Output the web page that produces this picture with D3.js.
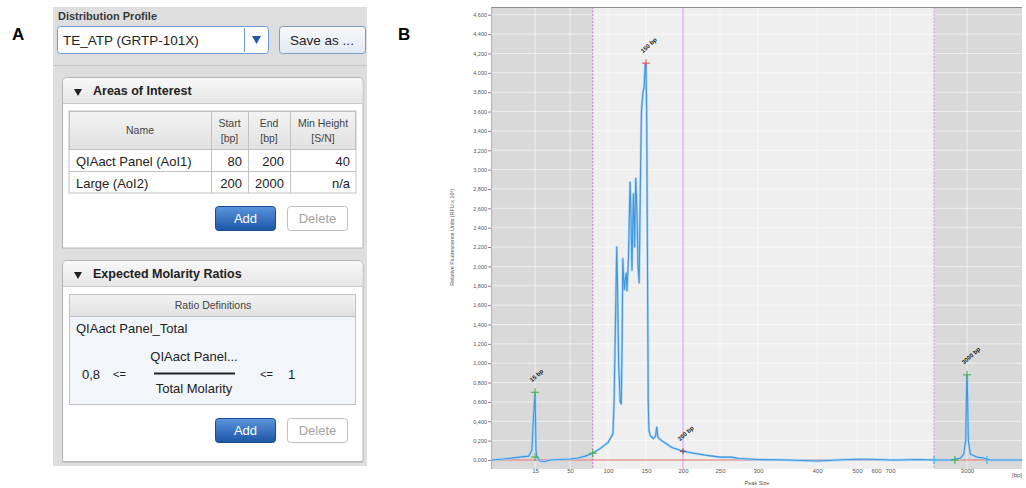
<!DOCTYPE html>
<html>
<head>
<meta charset="utf-8">
<script src="https://cdn.jsdelivr.net/npm/d3@7"></script>
<style>
  body { margin: 0; background: #fff; }
  text { font-family: "Liberation Sans", Arial, sans-serif; }
</style>
</head>
<body>
<div id="my_dataviz"></div>
<script>
// ---- Panel A data (software settings) ----
const aoiNames = ["QIAact Panel (AoI1)", "Large (AoI2)"];
const aoiStart = [80, 200];
const aoiEnd = [200, 2000];
const aoiMinHeight = ["40", "n/a"];
const ratioName = "QIAact Panel_Total";
const ratioLow = "0,8";
const ratioHigh = "1";

// ---- Panel B data (electropherogram) ----
const ladderBp = [15, 50, 100, 150, 200, 250, 300, 400, 500, 600, 700, 3000];
const yTicks = d3.range(0, 4.601, 0.2);

// trace: size [bp] and signal [RFU x 10^3]
const traceBp = [1, 5, 10, 13, 14, 14.6, 15, 15.4, 16, 17, 20, 25, 30, 40, 50, 60, 70, 80, 90, 100, 105, 106.5,
  108, 110, 111.5, 112.5, 114, 116, 117.5, 118.5, 119.5, 120.5, 121.5, 122.5, 124, 125, 127, 129, 130, 131.5,
  132.5, 133.5, 135, 136.5, 138, 139.5, 141, 142.5, 144, 146, 147.5, 149, 150, 151, 152, 153, 154, 156, 160,
  163, 164.5, 166, 168, 171, 175, 185, 200, 215, 230, 250, 265, 275, 300, 350, 400, 450, 500, 550, 600, 700,
  1000, 1500, 2000, 2500, 2800, 2900, 2960, 2990, 3000, 3010, 3040, 3100, 3300, 3500, 3700, 4650];
const traceRfu = [0.0, 0.01, 0.03, 0.04, 0.1, 0.5, 0.69, 0.5, 0.1, 0.03, -0.01, -0.015, 0.0, 0.005, 0.01, 0.02,
  0.04, 0.07, 0.12, 0.18, 0.25, 0.27,
  0.6, 1.5, 2.2, 1.8, 1.0, 0.6, 0.58, 1.2, 2.08, 1.9, 1.76, 1.85, 1.93, 1.75, 2.1, 2.87, 2.6, 1.96,
  2.4, 2.75, 2.2, 2.91, 2.6, 2.0, 1.83, 2.8, 3.6, 3.8, 3.85, 4.1, 4.09, 3.5, 2.0, 0.6, 0.3, 0.25, 0.22,
  0.25, 0.34, 0.24, 0.22, 0.2, 0.18, 0.13, 0.09, 0.07, 0.05, 0.03, 0.03, 0.015, 0.005, 0.0, -0.01, 0.0, 0.008, 0.008, 0.005, 0.0,
  0.0, 0.005, 0.0, 0.0, 0.02, 0.06, 0.2, 0.8, 0.87, 0.8, 0.2, 0.06, 0.03, 0.02, 0.0, 0.0];

const peakBp = [15, 150, 200, 3000];
const peakRfu = [0.70, 4.10, 0.09, 0.88];
const peakNames = ["15 bp", "150 bp", "200 bp", "3000 bp"];

const greenBp = [15, 15, 80, 2636, 3000];
const greenRfu = [0.03, 0.70, 0.07, 0.0, 0.88];
const cyanBp = [2000, 3600];

const svg = d3.select("#my_dataviz")
  .append("svg")
    .attr("width", 1026)
    .attr("height", 488);

// gradients
const defs = svg.append("defs");
function grad(id, c1, c2) {
  const g = defs.append("linearGradient").attr("id", id).attr("x1", 0).attr("y1", 0).attr("x2", 0).attr("y2", 1);
  g.append("stop").attr("offset", "0%").attr("stop-color", c1);
  g.append("stop").attr("offset", "100%").attr("stop-color", c2);
}
grad("hdr", "#f8f8f8", "#e6e6e6");
grad("thd", "#f3f3f3", "#e1e1e1");
grad("blue", "#5b95dc", "#1d55a6");
grad("save", "#f7f9fc", "#e2e9f2");

// Panel letters
svg.append("text").attr("x", 12).attr("y", 40).style("font-size", "17px").style("font-weight", "bold").text("A");
svg.append("text").attr("x", 398).attr("y", 40).style("font-size", "17px").style("font-weight", "bold").text("B");

// ================= Panel A =================
const pa = svg.append("g");
pa.append("rect").attr("x", 53).attr("y", 7).attr("width", 314).attr("height", 459).attr("fill", "#dedede");

pa.append("text").attr("x", 58).attr("y", 20).style("font-size", "11px").style("font-weight", "bold")
  .attr("fill", "#3a3a3a").text("Distribution Profile");

// dropdown
pa.append("rect").attr("x", 57.5).attr("y", 26.5).attr("width", 211).attr("height", 27).attr("rx", 3)
  .attr("fill", "#fff").attr("stroke", "#6d9ad4");
pa.append("line").attr("x1", 244.5).attr("x2", 244.5).attr("y1", 28).attr("y2", 52).attr("stroke", "#6d9ad4");
pa.append("path").attr("d", "M252,36H261L256.5,44Z").attr("fill", "#2557a3");
pa.append("text").attr("x", 63).attr("y", 45).style("font-size", "13.5px").attr("fill", "#222").text("TE_ATP (GRTP-101X)");

// save button
pa.append("rect").attr("x", 279.5).attr("y", 26.5).attr("width", 86).attr("height", 27).attr("rx", 3)
  .attr("fill", "url(#save)").attr("stroke", "#7f9cc2");
pa.append("text").attr("x", 322).attr("y", 45).attr("text-anchor", "middle").style("font-size", "13.5px")
  .attr("fill", "#222").text("Save as ...");

pa.append("line").attr("x1", 53).attr("x2", 367).attr("y1", 65.5).attr("y2", 65.5).attr("stroke", "#c6c6c6");

// collapsible panel helper
function panel(top, bottom, title) {
  pa.append("path")
    .attr("d", `M62.5,${bottom}V${top + 5}Q62.5,${top + 0.5} 67.5,${top + 0.5}H358Q363,${top + 0.5} 363,${top + 5}V${bottom}Z`)
    .attr("fill", "#fff").attr("stroke", "#b4b4b4");
  pa.append("path")
    .attr("d", `M63,${top + 26}V${top + 5}Q63,${top + 1} 67.5,${top + 1}H358Q362.5,${top + 1} 362.5,${top + 5}V${top + 26}Z`)
    .attr("fill", "url(#hdr)");
  pa.append("line").attr("x1", 63).attr("x2", 362.5).attr("y1", top + 26.5).attr("y2", top + 26.5).attr("stroke", "#cacaca");
  pa.append("path").attr("d", `M74,${top + 12}H82L78,${top + 19}Z`).attr("fill", "#222");
  pa.append("text").attr("x", 93).attr("y", top + 17.5).style("font-size", "12.5px").style("font-weight", "bold")
    .attr("fill", "#222").text(title);
}

function buttons(y) {
  pa.append("rect").attr("x", 215.5).attr("y", y + 0.5).attr("width", 60).attr("height", 24).attr("rx", 3)
    .attr("fill", "url(#blue)").attr("stroke", "#1b4d92");
  pa.append("text").attr("x", 245.5).attr("y", y + 17).attr("text-anchor", "middle").style("font-size", "13px")
    .attr("fill", "#fff").text("Add");
  pa.append("rect").attr("x", 287.5).attr("y", y + 0.5).attr("width", 60).attr("height", 24).attr("rx", 3)
    .attr("fill", "#fff").attr("stroke", "#c0c0c0");
  pa.append("text").attr("x", 317.5).attr("y", y + 17).attr("text-anchor", "middle").style("font-size", "13px")
    .attr("fill", "#a3a3a3").text("Delete");
}

// Areas of Interest panel
panel(77, 248, "Areas of Interest");
pa.append("rect").attr("x", 69).attr("y", 111).attr("width", 287).attr("height", 82)
  .attr("fill", "#fff").attr("stroke", "#c2c2c2");
pa.append("rect").attr("x", 69.5).attr("y", 111.5).attr("width", 286).attr("height", 38)
  .attr("fill", "url(#thd)").attr("stroke", "#c2c2c2");
const colX = [69, 211, 248, 290, 356];
colX.slice(1, 4).forEach(cx => {
  pa.append("line").attr("x1", cx + 0.5).attr("x2", cx + 0.5).attr("y1", 111).attr("y2", 193).attr("stroke", "#c2c2c2");
});
pa.append("line").attr("x1", 69).attr("x2", 356).attr("y1", 171.5).attr("y2", 171.5).attr("stroke", "#c2c2c2");

const headers = [["Name"], ["Start", "[bp]"], ["End", "[bp]"], ["Min Height", "[S/N]"]];
headers.forEach((h, i) => {
  const cx = (colX[i] + colX[i + 1]) / 2;
  h.forEach((line, j) => {
    const yy = h.length === 1 ? 133.5 : 126.5 + j * 15;
    pa.append("text").attr("x", cx).attr("y", yy).attr("text-anchor", "middle").style("font-size", "10.5px")
      .attr("fill", "#444").text(line);
  });
});

aoiNames.forEach((n, i) => {
  const yy = 165.5 + i * 22;
  pa.append("text").attr("x", 76).attr("y", yy).style("font-size", "13px").attr("fill", "#222").text(n);
  pa.append("text").attr("x", 242).attr("y", yy).attr("text-anchor", "end").style("font-size", "13px").attr("fill", "#222").text(aoiStart[i]);
  pa.append("text").attr("x", 284).attr("y", yy).attr("text-anchor", "end").style("font-size", "13px").attr("fill", "#222").text(aoiEnd[i]);
  pa.append("text").attr("x", 350).attr("y", yy).attr("text-anchor", "end").style("font-size", "13px").attr("fill", "#222").text(aoiMinHeight[i]);
});
buttons(206);

// Expected Molarity Ratios panel
panel(260, 461.5, "Expected Molarity Ratios");
pa.append("rect").attr("x", 69.5).attr("y", 294.5).attr("width", 286).attr("height", 110)
  .attr("fill", "#f2f5fa").attr("stroke", "#c2c2c2");
pa.append("rect").attr("x", 69.5).attr("y", 294.5).attr("width", 286).attr("height", 22)
  .attr("fill", "url(#thd)").attr("stroke", "#c2c2c2");
pa.append("text").attr("x", 213).attr("y", 309).attr("text-anchor", "middle").style("font-size", "10.5px")
  .attr("fill", "#444").text("Ratio Definitions");
pa.append("text").attr("x", 76).attr("y", 333).style("font-size", "13px").attr("fill", "#222").text(ratioName);
pa.append("text").attr("x", 82).attr("y", 378.5).style("font-size", "13px").attr("fill", "#222").text(ratioLow);
pa.append("text").attr("x", 113).attr("y", 378).style("font-size", "11px").attr("fill", "#222").text("<=");
pa.append("text").attr("x", 194).attr("y", 361).attr("text-anchor", "middle").style("font-size", "13px").attr("fill", "#222").text("QIAact Panel...");
pa.append("line").attr("x1", 154).attr("x2", 235).attr("y1", 373.5).attr("y2", 373.5).attr("stroke", "#222").attr("stroke-width", 2);
pa.append("text").attr("x", 194).attr("y", 393).attr("text-anchor", "middle").style("font-size", "13px").attr("fill", "#222").text("Total Molarity");
pa.append("text").attr("x", 260).attr("y", 378).style("font-size", "11px").attr("fill", "#222").text("<=");
pa.append("text").attr("x", 288).attr("y", 378.5).style("font-size", "13px").attr("fill", "#222").text(ratioHigh);
buttons(418);
pa.append("line").attr("x1", 62).attr("x2", 363).attr("y1", 462).attr("y2", 462).attr("stroke", "#b4b4b4");

// ================= Panel B =================
const margin = { top: 7, left: 491 },
    width = 531,
    height = 462;

const g = svg.append("g").attr("transform", `translate(${margin.left},${margin.top})`);

// Non-linear size axis, aligned to the ladder
const x = d3.scaleLinear()
    .domain([1, 15, 50, 100, 150, 200, 250, 300, 400, 500, 600, 700, 2000, 3000, 4650])
    .range([0, 44, 79, 117, 155, 192, 229, 267, 326, 366, 385, 399, 443, 476, width]);

const y = d3.scaleLinear()
    .domain([-0.093, 4.68])
    .range([height, 0]);

// background regions
g.append("rect").attr("x", 0).attr("y", 0).attr("width", width).attr("height", height).attr("fill", "#d9d9d9");
g.append("rect").attr("x", x(aoiStart[0])).attr("y", 0)
  .attr("width", x(aoiEnd[1]) - x(aoiStart[0])).attr("height", height).attr("fill", "#efefef");

// grid
g.selectAll(".hgrid").data(yTicks).enter().append("line")
  .attr("x1", 0).attr("x2", width).attr("y1", d => y(d)).attr("y2", d => y(d))
  .attr("stroke", "#fff").attr("stroke-opacity", 0.55);
g.selectAll(".vgrid").data(ladderBp).enter().append("line")
  .attr("x1", d => x(d)).attr("x2", d => x(d)).attr("y1", 0).attr("y2", height)
  .attr("stroke", "#fff").attr("stroke-opacity", 0.55);

// area of interest borders
g.append("line").attr("x1", x(aoiStart[0])).attr("x2", x(aoiStart[0])).attr("y1", 0).attr("y2", height)
  .attr("stroke", "#c77bd6").attr("stroke-dasharray", "2,1.5");
g.append("line").attr("x1", x(aoiEnd[1])).attr("x2", x(aoiEnd[1])).attr("y1", 0).attr("y2", height)
  .attr("stroke", "#d29ade").attr("stroke-dasharray", "2,1.5");
g.append("line").attr("x1", x(aoiEnd[0])).attr("x2", x(aoiEnd[0])).attr("y1", 0).attr("y2", height)
  .attr("stroke", "#d596e2");

// frame
g.append("line").attr("x1", 0).attr("x2", width).attr("y1", 0.5).attr("y2", 0.5).attr("stroke", "#8c8c8c");
g.append("line").attr("x1", 0.5).attr("x2", 0.5).attr("y1", 0).attr("y2", height).attr("stroke", "#b0b0b0");

// baseline
g.append("line").attr("x1", 0).attr("x2", width).attr("y1", y(0)).attr("y2", y(0))
  .attr("stroke", "#e06a6a").attr("stroke-width", 1);

// Add Y axis
const yAxis = g.append("g")
  .call(d3.axisLeft(y).tickValues(yTicks).tickSize(3).tickFormat(d => d.toFixed(3).replace(".", ",")));
yAxis.select(".domain").remove();
yAxis.selectAll("line").attr("stroke", "#888");
yAxis.selectAll("text").style("font-size", "5.5px").attr("fill", "#555").attr("x", -4);

// Add X axis
const xAxis = g.append("g")
  .attr("transform", `translate(0, ${height})`)
  .call(d3.axisBottom(x).tickValues(ladderBp).tickSize(0).tickFormat(d3.format("d")));
xAxis.select(".domain").remove();
xAxis.selectAll("text").style("font-size", "6px").attr("fill", "#555").attr("dy", "0.1em").attr("y", 3);

g.append("text").attr("x", width - 5).attr("y", height + 8).attr("text-anchor", "middle")
  .style("font-size", "6px").attr("fill", "#555").text("[bp]");

// Axis labels
g.append("text").attr("x", 266).attr("y", height + 16).attr("text-anchor", "middle")
  .style("font-size", "5.5px").attr("fill", "#555").text("Peak Size");
g.append("text")
  .attr("transform", `translate(-37, ${y(2.3)}) rotate(-90)`)
  .attr("text-anchor", "middle")
  .style("font-size", "5.4px").attr("fill", "#555")
  .text("Relative Fluorescence Units (RFU x 10³)");

// trace
const trace = traceBp.map((b, i) => [b, traceRfu[i]]);
g.append("path")
  .datum(trace)
  .attr("fill", "none")
  .attr("stroke", "#a8d2f3")
  .attr("stroke-width", 2.4)
  .attr("stroke-linejoin", "round")
  .attr("d", d3.line().x(d => x(d[0])).y(d => y(d[1])));
g.append("path")
  .datum(trace)
  .attr("fill", "none")
  .attr("stroke", "#3f97dd")
  .attr("stroke-width", 1.1)
  .attr("stroke-linejoin", "round")
  .attr("d", d3.line().x(d => x(d[0])).y(d => y(d[1])));

// markers
const cross = "M-4,0H4M0,-4V4";
g.selectAll(".green").data(greenBp).enter().append("path")
  .attr("transform", (d, i) => `translate(${x(d)},${y(greenRfu[i])})`)
  .attr("d", cross).attr("stroke", "#3fae3f").attr("stroke-width", 1);
g.append("path").attr("transform", `translate(${x(peakBp[1])},${y(peakRfu[1])})`)
  .attr("d", cross).attr("stroke", "#e25555").attr("stroke-width", 1);
g.append("path").attr("transform", `translate(${x(peakBp[2])},${y(peakRfu[2])})`)
  .attr("d", "M-3,0H3M0,-3V3").attr("stroke", "#8a3a4a").attr("stroke-width", 1);
g.selectAll(".cyan").data(cyanBp).enter().append("path")
  .attr("transform", d => `translate(${x(d)},${y(0)})`)
  .attr("d", "M-2,0H2M0,-4V4").attr("stroke", "#3cc0e0").attr("stroke-width", 1.2);

// peak labels
g.selectAll(".plabel").data(peakBp).enter().append("text")
  .attr("transform", (d, i) => `translate(${x(d) - 3},${y(peakRfu[i]) - 10}) rotate(-42)`)
  .style("font-size", "6px").style("font-weight", "bold").attr("fill", "#222")
  .text((d, i) => peakNames[i]);
</script>
</body>
</html>
